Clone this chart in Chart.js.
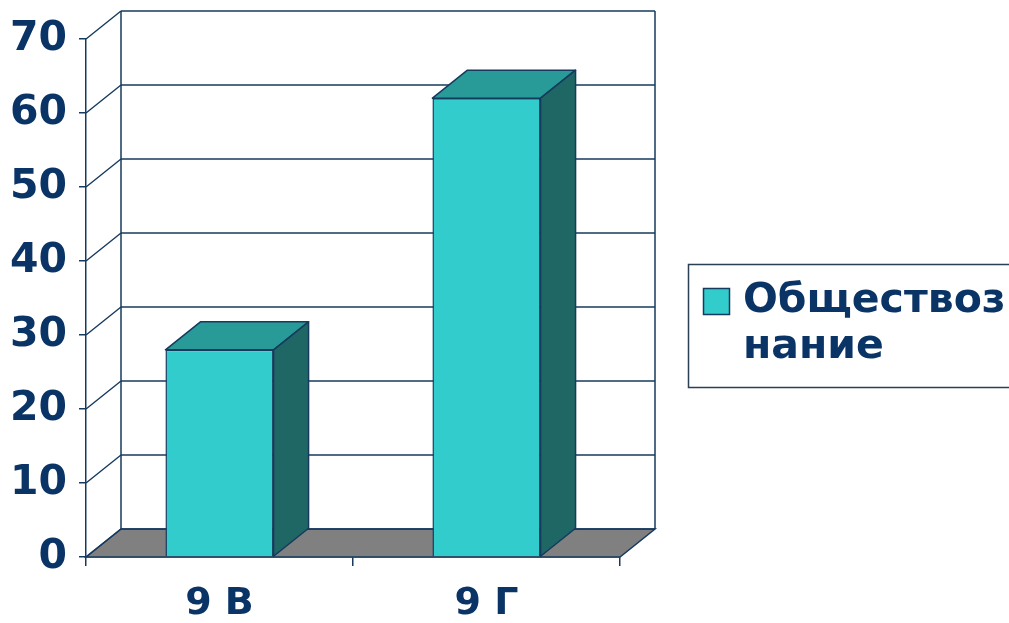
<!DOCTYPE html>
<html>
<head>
<meta charset="utf-8">
<script src="https://cdn.jsdelivr.net/npm/chart.js@4.4.0/dist/chart.umd.min.js"></script>
<style>
	html, body { margin: 0; padding: 0; background: #fff; }
	#wrap { width: 1009px; height: 623px; }
</style>
</head>
<body>
<div id="wrap"><canvas id="barChart" width="1009" height="623"></canvas></div>
<script>
// datos
var categories = ["9 В", "9 Г"];
var values = [28, 62];
var seriesName = "Обществознание";
var legendLines = ["Обществоз", "нание"];
var yTicks = [0, 10, 20, 30, 40, 50, 60, 70];

// estilo
var depthX = 35, depthY = -28;
var lineColor = "#163a5e";
var textColor = "#0a3466";
var frontColor = "#33cccc";
var topColor = "#289a97";
var sideColor = "#1e6764";
var floorColor = "#808080";
var fontFamily = "'DejaVu Sans', 'Liberation Sans', Arial, sans-serif";

function poly(ctx, pts, fill) {
	ctx.beginPath();
	ctx.moveTo(pts[0][0], pts[0][1]);
	for (var i = 1; i < pts.length; i++) {
		ctx.lineTo(pts[i][0], pts[i][1]);
	}
	ctx.closePath();
	if (fill) {
		ctx.fillStyle = fill;
		ctx.fill();
	}
	ctx.stroke();
}

function line(ctx, x1, y1, x2, y2) {
	ctx.beginPath();
	ctx.moveTo(x1, y1);
	ctx.lineTo(x2, y2);
	ctx.stroke();
}

var box3d = {
	id : "box3d",
	beforeDatasetsDraw : function(chart) {
		var ctx = chart.ctx, a = chart.chartArea, y = chart.scales.y;
		var base = y.getPixelForValue(yTicks[0]);
		var top = y.getPixelForValue(yTicks[yTicks.length - 1]);
		ctx.save();
		ctx.strokeStyle = lineColor;
		ctx.lineWidth = 1.5;
		// suelo
		poly(ctx, [[a.left, base], [a.right, base], [a.right + depthX, base + depthY], [a.left + depthX, base + depthY]], floorColor);
		// lineas de la pared
		yTicks.forEach(function(v) {
			var py = y.getPixelForValue(v);
			line(ctx, a.left, py, a.left + depthX, py + depthY);
			line(ctx, a.left + depthX, py + depthY, a.right + depthX, py + depthY);
		});
		line(ctx, a.left + depthX, top + depthY, a.left + depthX, base + depthY);
		line(ctx, a.right + depthX, top + depthY, a.right + depthX, base + depthY);
		ctx.restore();
	},
	afterDatasetsDraw : function(chart) {
		var ctx = chart.ctx;
		ctx.save();
		ctx.strokeStyle = lineColor;
		ctx.lineWidth = 1.5;
		ctx.lineJoin = "round";
		chart.getDatasetMeta(0).data.forEach(function(bar) {
			var p = bar.getProps(["x", "y", "base", "width"], true);
			var l = p.x - p.width / 2, r = p.x + p.width / 2;
			poly(ctx, [[l, p.y], [r, p.y], [r + depthX, p.y + depthY], [l + depthX, p.y + depthY]], topColor);
			poly(ctx, [[r, p.y], [r + depthX, p.y + depthY], [r + depthX, p.base + depthY], [r, p.base]], sideColor);
		});
		ctx.restore();
	},
	afterDraw : function(chart) {
		// leyenda
		var ctx = chart.ctx;
		ctx.save();
		ctx.strokeStyle = "#2b3f55";
		ctx.lineWidth = 1.5;
		ctx.strokeRect(688.5, 264.5, 340, 123);
		ctx.strokeStyle = lineColor;
		ctx.fillStyle = frontColor;
		ctx.fillRect(703.5, 288.5, 26, 26);
		ctx.strokeRect(703.5, 288.5, 26, 26);
		ctx.fillStyle = textColor;
		ctx.font = "bold 41px " + fontFamily;
		ctx.textBaseline = "alphabetic";
		ctx.textAlign = "left";
		legendLines.forEach(function(t, i) {
			ctx.fillText(t, 743, 312 + i * 46);
		});
		ctx.restore();
	}
};

var chartCtx = document.getElementById("barChart").getContext("2d");
new Chart(chartCtx, {
	type : "bar",
	data : {
		labels : categories,
		datasets : [ {
			label : seriesName,
			data : values,
			backgroundColor : frontColor,
			borderColor : lineColor,
			borderWidth : 1.5,
			categoryPercentage : 1,
			barPercentage : 0.405
		} ]
	},
	options : {
		responsive : false,
		animation : false,
		layout : { padding : { top : 39, right : 389, bottom : 0, left : 0 } },
		plugins : {
			legend : { display : false },
			tooltip : { enabled : false }
		},
		scales : {
			y : {
				min : 0,
				max : 70,
				afterFit : function(s) { s.width = 86; },
				afterBuildTicks : function(s) {
					s.ticks = yTicks.map(function(v) { return { value : v }; });
				},
				ticks : {
					color : textColor,
					font : { family : fontFamily, size : 41, weight : "bold" },
					padding : 12
				},
				grid : { drawOnChartArea : false, color : lineColor, lineWidth : 1.5, tickLength : 7 },
				border : { color : lineColor, width : 1.5 }
			},
			x : {
				afterFit : function(s) { s.height = 66; },
				ticks : {
					color : textColor,
					font : { family : fontFamily, size : 38, weight : "bold" },
					padding : 15
				},
				grid : { offset : true, drawOnChartArea : false, color : lineColor, lineWidth : 1.5, tickLength : 9 },
				border : { color : lineColor, width : 1.5 }
			}
		}
	},
	plugins : [ box3d ]
});
</script>
</body>
</html>
